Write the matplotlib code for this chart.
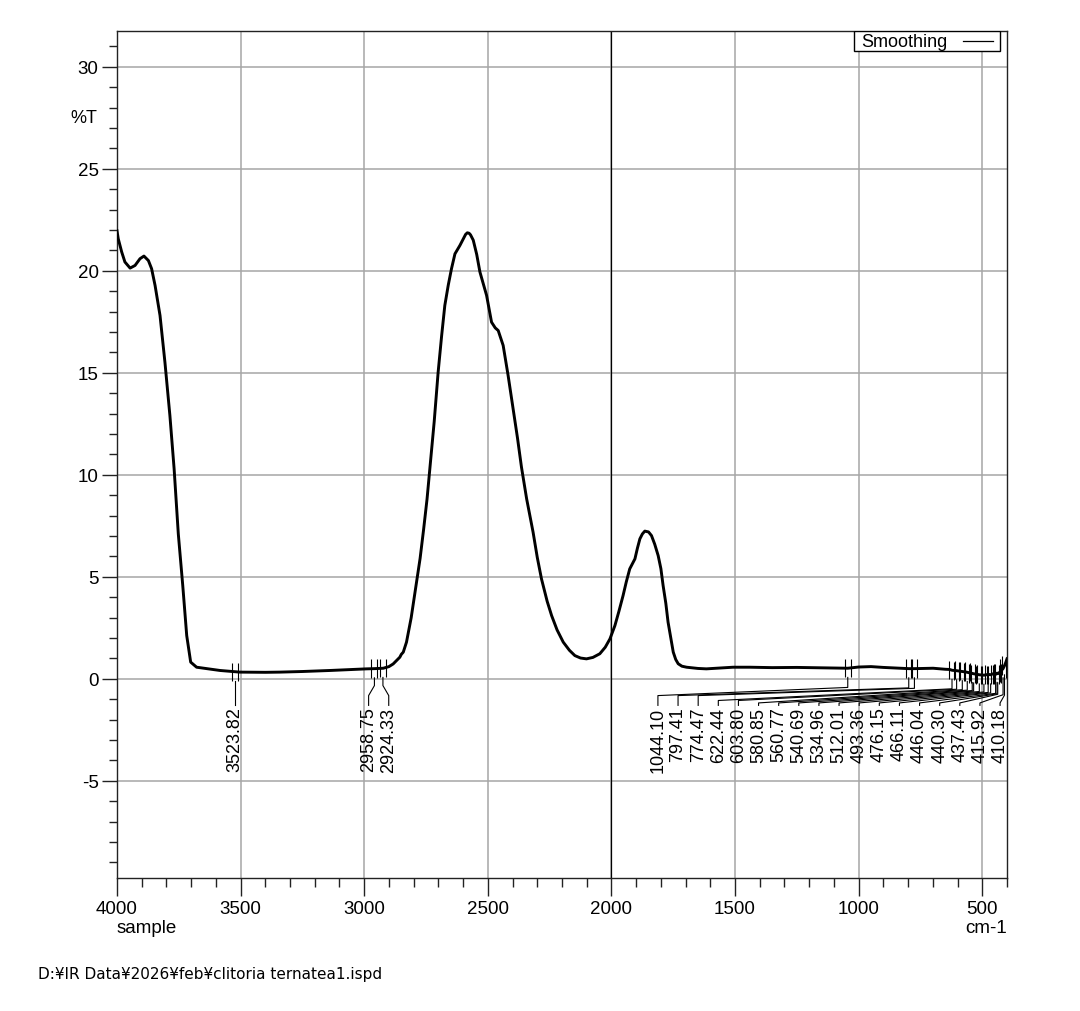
import numpy as np
import matplotlib
matplotlib.use('Agg')
import matplotlib.pyplot as plt
from matplotlib.ticker import MultipleLocator
from matplotlib.patches import Rectangle

plt.rcParams['font.family'] = ['Liberation Sans', 'DejaVu Sans']
plt.rcParams['axes.unicode_minus'] = False

# IR spectrum (wavenumber cm-1, %T)
wavenumber = [4000, 3995, 3981, 3968, 3947, 3927, 3907, 3891, 3873, 3860, 3846,
              3826, 3806, 3786, 3769, 3752, 3734, 3718, 3702, 3678, 3583, 3503,
              3400, 3341, 3250, 3139, 3050, 2990, 2958, 2923, 2900, 2883, 2865,
              2856, 2850, 2842, 2829, 2810, 2790, 2774, 2760, 2746, 2734, 2717,
              2701, 2687, 2674, 2660, 2647, 2633, 2613, 2598, 2590, 2583, 2576,
              2570, 2559, 2545, 2532, 2518, 2505, 2485, 2470, 2458, 2438, 2418,
              2398, 2380, 2364, 2343, 2317, 2300, 2283, 2260, 2242, 2220, 2195,
              2170, 2148, 2125, 2101, 2075, 2047, 2025, 2006, 1986, 1970, 1953,
              1940, 1926, 1905, 1895, 1885, 1875, 1865, 1850, 1838, 1825, 1811,
              1800, 1791, 1780, 1771, 1760, 1750, 1740, 1730, 1715, 1696, 1650,
              1616, 1550, 1508, 1440, 1350, 1250, 1150, 1044, 1000, 950, 900, 834,
              797, 774, 699, 650, 632, 622, 604, 581, 564, 541, 535, 512, 493, 476,
              466, 456, 446, 440, 437, 429, 416, 410, 405, 400]
transmittance = [21.96, 21.57, 20.92, 20.43, 20.13, 20.26, 20.59, 20.72, 20.5, 20.1, 19.28,
                 17.81, 15.5, 12.9, 10.3, 7.1, 4.57, 2.12, 0.82, 0.57, 0.41, 0.33,
                 0.32, 0.33, 0.36, 0.41, 0.46, 0.49, 0.5, 0.52, 0.6, 0.73, 0.95,
                 1.06, 1.2, 1.31, 1.8, 3.0, 4.6, 5.9, 7.3, 8.8, 10.38, 12.6,
                 15.03, 16.8, 18.3, 19.3, 20.1, 20.83, 21.24, 21.6, 21.78, 21.86, 21.84,
                 21.76, 21.5, 20.8, 19.94, 19.35, 18.79, 17.48, 17.2, 17.07, 16.34, 14.87,
                 13.24, 11.8, 10.38, 8.82, 7.19, 5.95, 4.9, 3.8, 3.1, 2.4, 1.8,
                 1.4, 1.14, 1.02, 0.98, 1.05, 1.23, 1.55, 1.96, 2.61, 3.3, 4.08,
                 4.75, 5.39, 5.88, 6.4, 6.86, 7.1, 7.24, 7.2, 7.02, 6.6, 6.04,
                 5.4, 4.57, 3.7, 2.78, 2.0, 1.31, 0.95, 0.74, 0.62, 0.57, 0.51,
                 0.49, 0.54, 0.57, 0.57, 0.55, 0.56, 0.54, 0.52, 0.58, 0.6, 0.56, 0.52,
                 0.5, 0.5, 0.52, 0.47, 0.46, 0.42, 0.4, 0.36, 0.33, 0.27, 0.25, 0.2, 0.18, 0.22,
                 0.2, 0.25, 0.22, 0.28, 0.25, 0.33, 0.5, 0.65, 0.8, 0.98]

# picked peaks
peaks_3500 = [3523.82]
peaks_2900 = [2958.75, 2924.33]
peaks_fp = [1044.10, 797.41, 774.47, 622.44, 603.80, 580.85, 560.77, 540.69, 534.96,
            512.01, 493.36, 476.15, 466.11, 446.04, 440.30, 437.43, 415.92, 410.18]

x_ticks = [4000, 3500, 3000, 2500, 2000, 1500, 1000, 500]
y_ticks = [-5, 0, 5, 10, 15, 20, 25, 30]

wn = np.array(wavenumber)
pt = np.array(transmittance)

fig = plt.figure(figsize=(10.8, 10.12), dpi=100)
ax = fig.add_axes([117/1080, 1-879/1012, 890/1080, 847/1012])
ax.set_axisbelow(True)

ax.set_xlim(4000, 400)
ax.set_ylim(-9.76, 31.75)
ax.set_xticks(x_ticks)
ax.set_yticks(y_ticks)
ax.xaxis.set_minor_locator(MultipleLocator(100))
ax.yaxis.set_minor_locator(MultipleLocator(1))
ax.tick_params(axis='both', which='both', direction='out', color='#222222', width=1, labelsize=13.5)
ax.tick_params(axis='x', which='major', length=13, pad=3)
ax.tick_params(axis='x', which='minor', length=6.7)
ax.tick_params(axis='y', which='major', length=10.5, pad=2.7)
ax.tick_params(axis='y', which='minor', length=5.8)
for s in ax.spines.values():
    s.set_linewidth(1.0)
    s.set_color('#222222')

ax.grid(which='major', color='#a6a6a6', linewidth=1.1)
ax.axvline(2000, color='black', linewidth=0.9, zorder=2)

ax.plot(wn, pt, color='black', linewidth=2.1, solid_joinstyle='round', zorder=3)

# peak markers and leader lines
def mark_peak(p, lx, knee, elbow):
    yc = np.interp(p, wn[::-1], pt[::-1])
    ax.vlines([p + 12, p - 12], yc - 0.45, yc + 0.45, color='black', linewidth=0.8, zorder=4)
    ax.plot([p, p, lx, lx], [yc - 0.45, knee, elbow, -1.3], color='black', linewidth=0.8, zorder=4)
    ax.text(lx, -1.36, f'{p:.2f}', rotation=90, ha='center', va='top', fontsize=13)

for p in peaks_3500:
    mark_peak(p, p, -0.6, -0.6)

lx_2900 = np.mean(peaks_2900) + np.array([40.7, -40.7])
for p, lx in zip(peaks_2900, lx_2900):
    mark_peak(p, lx, -0.33, -0.82)

n = len(peaks_fp)
lx_fp = np.linspace(1812, 428, n)
knee_fp = np.linspace(-0.42, -0.8, n)
for i, (p, lx) in enumerate(zip(peaks_fp, lx_fp)):
    elbow = -0.82 if i < 3 else (-1.06 if i < 5 else -1.18)
    mark_peak(p, lx, knee_fp[i], elbow)

# legend box
ax.add_patch(Rectangle((0.828, 0.9765), 0.164, 0.0235, transform=ax.transAxes,
                       facecolor='white', edgecolor='black', linewidth=1.0, zorder=5))
ax.text(0.836, 0.9878, 'Smoothing', transform=ax.transAxes, va='center', ha='left',
        fontsize=13, zorder=6)
ax.plot([0.9506, 0.984], [0.9878, 0.9878], transform=ax.transAxes, color='black',
        linewidth=0.9, zorder=6)

ax.text(-0.037, 27.5, '%T', transform=ax.get_yaxis_transform(), ha='center', va='center',
        fontsize=13)
fig.text(117/1080, 1-929/1012, 'sample', ha='left', va='center', fontsize=13.5)
fig.text(1007/1080, 1-929/1012, 'cm-1', ha='right', va='center', fontsize=13.5)
fig.text(38/1080, 1-975/1012, 'D:¥IR Data¥2026¥feb¥clitoria ternatea1.ispd',
         ha='left', va='center', fontsize=11, family=['DejaVu Sans'])

fig.savefig('out.png', dpi=100)
